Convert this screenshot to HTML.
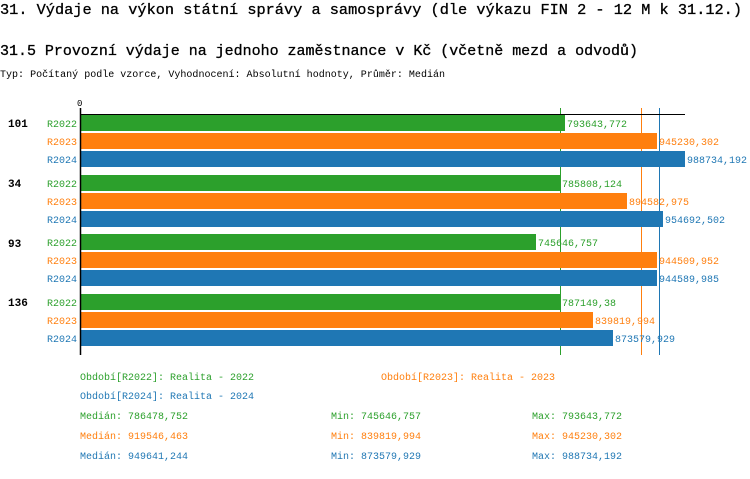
<!DOCTYPE html>
<html><head><meta charset="utf-8"><style>
body{margin:0;background:#fff;}
svg text{font-family:"Liberation Mono","DejaVu Sans Mono",monospace;}
</style></head><body>
<svg width="750" height="474" xmlns="http://www.w3.org/2000/svg">
<text x="0" y="14" font-size="15" textLength="742" lengthAdjust="spacingAndGlyphs" stroke="#000" stroke-width="0.3">31. Výdaje na výkon státní správy a samosprávy (dle výkazu FIN 2 - 12 M k 31.12.)</text>
<text x="0" y="55" font-size="15" textLength="638" lengthAdjust="spacingAndGlyphs" stroke="#000" stroke-width="0.3">31.5 Provozní výdaje na jednoho zaměstnance v Kč (včetně mezd a odvodů)</text>
<text x="0" y="77" font-size="10" textLength="445" lengthAdjust="spacingAndGlyphs">Typ: Počítaný podle vzorce, Vyhodnocení: Absolutní hodnoty, Průměr: Medián</text>
<text x="77" y="106" font-size="9">0</text>
<g font-size="10">
<line x1="560.5" y1="108" x2="560.5" y2="355" stroke="#2ca02c"/>
<line x1="641.5" y1="108" x2="641.5" y2="355" stroke="#ff7f0e"/>
<line x1="659.5" y1="108" x2="659.5" y2="355" stroke="#1f77b4"/>
<rect x="81" y="115" width="484" height="16" fill="#2ca02c"/>
<rect x="81" y="133" width="576" height="16" fill="#ff7f0e"/>
<rect x="81" y="151" width="604" height="16" fill="#1f77b4"/>
<rect x="81" y="175" width="479" height="16" fill="#2ca02c"/>
<rect x="81" y="193" width="546" height="16" fill="#ff7f0e"/>
<rect x="81" y="211" width="582" height="16" fill="#1f77b4"/>
<rect x="81" y="234" width="455" height="16" fill="#2ca02c"/>
<rect x="81" y="252" width="576" height="16" fill="#ff7f0e"/>
<rect x="81" y="270" width="576" height="16" fill="#1f77b4"/>
<rect x="81" y="294" width="480" height="16" fill="#2ca02c"/>
<rect x="81" y="312" width="512" height="16" fill="#ff7f0e"/>
<rect x="81" y="330" width="532" height="16" fill="#1f77b4"/>
<line x1="80" y1="114.5" x2="685" y2="114.5" stroke="#000"/>
<line x1="80.5" y1="108" x2="80.5" y2="355" stroke="#000" stroke-width="1.5"/>
<g font-weight="bold" font-size="11">
<text x="8" y="127">101</text><text x="8" y="187">34</text><text x="8" y="247">93</text><text x="8" y="306">136</text>
</g>
<g fill="#2ca02c"><text x="47" y="127">R2022</text><text x="47" y="187">R2022</text><text x="47" y="246">R2022</text><text x="47" y="306">R2022</text>
<text x="567" y="127">793643,772</text><text x="562" y="187">785808,124</text><text x="538" y="246">745646,757</text><text x="562" y="306">787149,38</text></g>
<g fill="#ff7f0e"><text x="47" y="145">R2023</text><text x="47" y="205">R2023</text><text x="47" y="264">R2023</text><text x="47" y="324">R2023</text>
<text x="659" y="145">945230,302</text><text x="629" y="205">894582,975</text><text x="659" y="264">944509,952</text><text x="595" y="324">839819,994</text></g>
<g fill="#1f77b4"><text x="47" y="163">R2024</text><text x="47" y="223">R2024</text><text x="47" y="282">R2024</text><text x="47" y="342">R2024</text>
<text x="687" y="163">988734,192</text><text x="665" y="223">954692,502</text><text x="659" y="282">944589,985</text><text x="615" y="342">873579,929</text></g>
<text x="80" y="380" fill="#2ca02c">Období[R2022]: Realita - 2022</text>
<text x="381" y="380" fill="#ff7f0e">Období[R2023]: Realita - 2023</text>
<text x="80" y="399" fill="#1f77b4">Období[R2024]: Realita - 2024</text>
<g fill="#2ca02c"><text x="80" y="419">Medián: 786478,752</text><text x="331" y="419">Min: 745646,757</text><text x="532" y="419">Max: 793643,772</text></g>
<g fill="#ff7f0e"><text x="80" y="439">Medián: 919546,463</text><text x="331" y="439">Min: 839819,994</text><text x="532" y="439">Max: 945230,302</text></g>
<g fill="#1f77b4"><text x="80" y="459">Medián: 949641,244</text><text x="331" y="459">Min: 873579,929</text><text x="532" y="459">Max: 988734,192</text></g>
</g>
</svg>
</body></html>
